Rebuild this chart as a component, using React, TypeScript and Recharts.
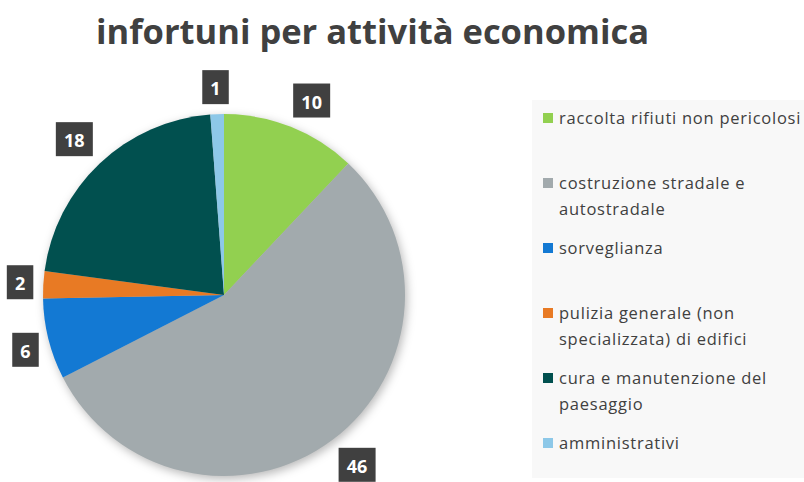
import React from 'react';
import { PieChart, Pie, Cell, Legend } from 'recharts';

const categories = [
  'raccolta rifiuti non pericolosi',
  'costruzione stradale e\nautostradale',
  'sorveglianza',
  'pulizia generale (non\nspecializzata) di edifici',
  'cura e manutenzione del\npaesaggio',
  'amministrativi',
];
const values = [10, 46, 6, 2, 18, 1];
const colors = ['#92D050', '#A2AAAD', '#1379D3', '#E87A24', '#01504F', '#8DC8E8'];
const title = 'infortuni per attività economica';

const data = categories.map((name, i) => ({ name, value: values[i] }));
const RAD = Math.PI / 180;
const FONT = '"Open Sans", "Noto Sans", sans-serif';

function renderLabel(props: any) {
  const { cx, cy, midAngle, outerRadius, value, index } = props;
  const ux = Math.cos(-midAngle * RAD);
  const uy = Math.sin(-midAngle * RAD);
  const r = outerRadius + 10;
  const text = String(value);
  const w = 16 + 10.5 * text.length;
  const h = 34;
  const clamp = (v: number) => Math.max(-1, Math.min(1, v));
  const x = cx + r * ux + (w / 2) * clamp(ux / 0.4);
  const y = cy + r * uy + (h / 2) * clamp(uy / 0.5);
  return (
    <g key={`lbl-${index}`}>
      <rect x={x - w / 2} y={y - h / 2} width={w} height={h} fill="#404040" />
      <text
        x={x}
        y={y + 1}
        textAnchor="middle"
        dominantBaseline="central"
        fill="#ffffff"
        fontSize={18}
        fontWeight={700}
        fontFamily={FONT}
      >
        {text}
      </text>
    </g>
  );
}

function renderLegend() {
  return (
    <div
      style={{
        background: '#f8f8f8',
        width: 272,
        height: 378,
        boxSizing: 'border-box',
        paddingTop: 5,
        paddingLeft: 11,
        fontFamily: FONT,
        fontSize: 16.5,
        letterSpacing: '0.75px',
        color: '#404040',
      }}
    >
      {data.map((d, i) => (
        <div key={i} style={{ height: 65, display: 'flex', alignItems: 'flex-start' }}>
          <div
            style={{
              width: 10,
              height: 10,
              background: colors[i],
              marginTop: 8,
              marginRight: 6,
              flex: '0 0 auto',
            }}
          />
          <div style={{ whiteSpace: 'pre', lineHeight: '26px' }}>{d.name}</div>
        </div>
      ))}
    </div>
  );
}

export default function App() {
  return (
    <div style={{ position: 'absolute', left: 0, top: 0, width: 804, height: 482, background: '#fff', overflow: 'hidden' }}>
      <style>{`.recharts-pie { filter: drop-shadow(2px 3px 5px rgba(0,0,0,0.28)); }`}</style>
      <div
        style={{
          position: 'absolute',
          left: 0,
          top: 9,
          width: 745,
          textAlign: 'center',
          fontFamily: FONT,
          fontWeight: 700,
          fontSize: 34.5,
          color: '#404040',
          lineHeight: '44px',
          zIndex: 2,
        }}
      >
        {title}
      </div>
      <PieChart width={804} height={482} margin={{ top: 0, right: 0, bottom: 0, left: 0 }}>
        <Pie
          data={data}
          dataKey="value"
          nameKey="name"
          cx={224}
          cy={295}
          outerRadius={181}
          startAngle={90}
          endAngle={-270}
          stroke="none"
          label={renderLabel}
          labelLine={false}
          isAnimationActive={false}
        >
          {data.map((d, i) => (
            <Cell key={i} fill={colors[i]} />
          ))}
        </Pie>
        <Legend
          layout="vertical"
          align="right"
          verticalAlign="top"
          content={renderLegend}
          wrapperStyle={{ position: 'absolute', left: 532, top: 100, width: 272 }}
        />
      </PieChart>
    </div>
  );
}
